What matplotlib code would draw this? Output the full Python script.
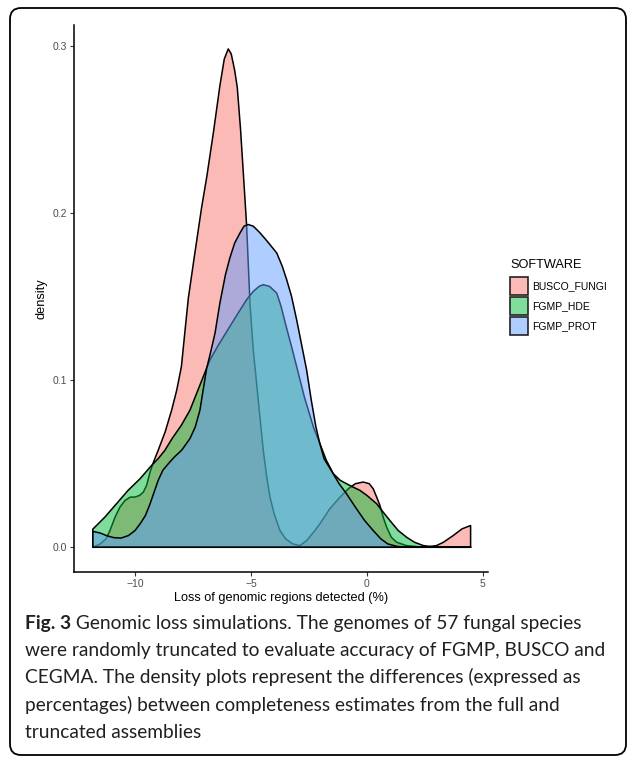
import matplotlib
matplotlib.use("Agg")
import matplotlib.pyplot as plt
from matplotlib.colors import to_rgba
from matplotlib.patches import FancyBboxPatch, Rectangle

# density curves: x = loss (%), y = density
busco_x = [-11.82, -11.5, -11.25, -11.08, -10.86, -10.65, -10.43, -10.2, -10.0, -9.8,
           -9.64, -9.5, -9.35, -9.2, -9.0, -8.7, -8.42, -8.2, -8.0, -7.84,
           -7.7, -7.45, -7.13, -6.9, -6.62, -6.34, -6.15, -5.98, -5.85, -5.7,
           -5.59, -5.45, -5.33, -5.19, -5.04, -4.9, -4.7, -4.47, -4.32, -4.18,
           -4.0, -3.75, -3.5, -3.2, -2.89, -2.6, -2.3, -2.03, -1.6, -1.16,
           -0.8, -0.5, -0.16, 0.1, 0.27, 0.42, 0.56, 0.7, 0.85, 1.05,
           1.28, 1.7, 2.2, 2.6, 3.0, 3.3, 3.72, 4.1, 4.47]
busco_y = [0.000, 0.002, 0.005, 0.010, 0.018, 0.024, 0.028, 0.030, 0.030, 0.031,
           0.033, 0.037, 0.045, 0.051, 0.058, 0.069, 0.082, 0.094, 0.108, 0.130,
           0.149, 0.173, 0.203, 0.222, 0.248, 0.276, 0.292, 0.298, 0.295, 0.285,
           0.275, 0.250, 0.224, 0.193, 0.145, 0.118, 0.090, 0.058, 0.042, 0.030,
           0.020, 0.010, 0.005, 0.002, 0.001, 0.004, 0.009, 0.014, 0.023, 0.030,
           0.035, 0.038, 0.039, 0.038, 0.035, 0.030, 0.025, 0.018, 0.012, 0.006,
           0.003, 0.001, 0.0003, 0.0002, 0.001, 0.003, 0.007, 0.011, 0.013]

hde_x = [-11.82, -11.3, -10.8, -10.3, -9.78, -9.28, -9.0, -8.71, -8.4, -8.0,
         -7.63, -7.2, -6.77, -6.4, -6.0, -5.6, -5.19, -4.9, -4.65, -4.47,
         -4.2, -3.89, -3.7, -3.5, -3.25, -3.03, -2.7, -2.31, -2.03, -1.75,
         -1.45, -1.15, -0.88, -0.6, -0.3, 0.0, 0.42, 0.7, 0.99, 1.35,
         1.71, 2.05, 2.43, 3.0, 3.6, 4.47]
hde_y = [0.0108, 0.018, 0.026, 0.034, 0.041, 0.049, 0.053, 0.058, 0.065, 0.073,
         0.082, 0.097, 0.112, 0.121, 0.130, 0.139, 0.148, 0.153, 0.156, 0.157,
         0.156, 0.152, 0.144, 0.133, 0.120, 0.108, 0.090, 0.072, 0.062, 0.052,
         0.044, 0.040, 0.038, 0.036, 0.034, 0.031, 0.026, 0.021, 0.016, 0.010,
         0.006, 0.003, 0.001, 0.0, 0.0, 0.0]

prot_x = [-11.82, -11.5, -11.2, -10.9, -10.6, -10.28, -10.0, -9.78, -9.55, -9.35,
          -9.15, -9.0, -8.8, -8.56, -8.3, -7.99, -7.63, -7.4, -7.2, -7.05,
          -6.91, -6.75, -6.55, -6.34, -6.1, -5.91, -5.7, -5.47, -5.3, -5.12,
          -4.9, -4.61, -4.3, -3.89, -3.65, -3.46, -3.25, -3.03, -2.8, -2.6,
          -2.4, -2.2, -2.03, -1.85, -1.5, -1.2, -0.88, -0.5, -0.1, 0.27,
          0.6, 0.9, 1.3, 1.8, 3.0, 4.47]
prot_y = [0.0095, 0.0085, 0.0068, 0.0057, 0.0055, 0.007, 0.010, 0.014, 0.019, 0.026,
          0.034, 0.040, 0.046, 0.050, 0.054, 0.058, 0.065, 0.072, 0.082, 0.095,
          0.107, 0.116, 0.128, 0.146, 0.163, 0.173, 0.182, 0.188, 0.192, 0.193,
          0.192, 0.188, 0.183, 0.176, 0.168, 0.160, 0.150, 0.136, 0.120, 0.106,
          0.088, 0.072, 0.062, 0.053, 0.045, 0.038, 0.032, 0.024, 0.016, 0.010,
          0.005, 0.002, 0.0005, 0.0, 0.0, 0.0]

software = ["BUSCO_FUNGI", "FGMP_HDE", "FGMP_PROT"]
colors = ["#F8766D", "#00BA38", "#619CFF"]
x_ticks = [-10, -5, 0, 5]
y_ticks = [0.0, 0.1, 0.2, 0.3]

caption_first = " Genomic loss simulations. The genomes of 57 fungal species"
caption_lines = [
    "were randomly truncated to evaluate accuracy of FGMP, BUSCO and",
    "CEGMA. The density plots represent the differences (expressed as",
    "percentages) between completeness estimates from the full and",
    "truncated assemblies",
]

W, H = 627, 757
fig = plt.figure(figsize=(W / 100, H / 100), dpi=100)

# pixel-space layer for the frame, legend and caption
bg = fig.add_axes([0, 0, 1, 1])
bg.set_xlim(0, W)
bg.set_ylim(H, 0)
bg.axis("off")
bg.add_patch(FancyBboxPatch((10, 8), 616, 747, boxstyle="round,pad=0,rounding_size=11",
                            fill=False, ec="black", lw=1.3))

ax = fig.add_axes([74 / W, 1 - 572 / H, 414 / W, 547 / H])
curves = [(busco_x, busco_y), (hde_x, hde_y), (prot_x, prot_y)]
for (xs, ys), c in zip(curves, colors):
    ax.fill(list(xs) + [xs[-1], xs[0]], list(ys) + [0, 0],
            fc=to_rgba(c, 0.5), ec="black", lw=1.1, joinstyle="round")

ax.set_xlim(-12.63, 5.22)
ax.set_ylim(-0.0148, 0.3123)
ax.set_xticks(x_ticks)
ax.set_yticks(y_ticks)
ax.set_yticklabels([f"{v:.1f}" for v in y_ticks])
for s in ["top", "right"]:
    ax.spines[s].set_visible(False)
for s in ["left", "bottom"]:
    ax.spines[s].set_linewidth(1.1)
ax.tick_params(length=3, width=0.8, color="#333333", labelcolor="#4D4D4D",
               labelsize=7.5, pad=2)
for lab in ax.get_xticklabels() + ax.get_yticklabels():
    lab.set_family("Liberation Sans")
ax.set_xlabel("Loss of genomic regions detected (%)", family="Liberation Sans",
              fontsize=9.2, labelpad=2)
ax.set_ylabel("density", family="Liberation Sans", fontsize=9.2, labelpad=4)

# legend
bg.text(510, 265, "SOFTWARE", family="Liberation Sans", fontsize=9.2, va="center")
for i, (name, c) in enumerate(zip(software, colors)):
    bg.add_patch(Rectangle((509.5, 277 + i * 20), 18.5, 18, fc=to_rgba(c, 0.5),
                           ec="#222222", lw=1.2))
    bg.text(532, 286 + i * 20.3, name, family="Liberation Sans", fontsize=7.5, va="center")

# caption, sized so the second line runs from x=25 to x=604
r = fig.canvas.get_renderer()
cap_font = "Lato"
cap_col = "#231F20"
base = 629
probe = bg.text(25, base, caption_lines[0], family=cap_font, fontsize=12)
fs = 12 * (604 - 25) / probe.get_window_extent(r).width
probe.remove()

t = bg.text(25, base, "Fig. 3", family=cap_font, fontweight="bold", fontsize=fs, color=cap_col)
x_end = t.get_window_extent(r).x1
bg.text(x_end, base, caption_first, family=cap_font, fontsize=fs, color=cap_col)
for i, line in enumerate(caption_lines):
    bg.text(25, base + (i + 1) * 27.2, line, family=cap_font, fontsize=fs, color=cap_col)

fig.savefig("out.png", dpi=100)
